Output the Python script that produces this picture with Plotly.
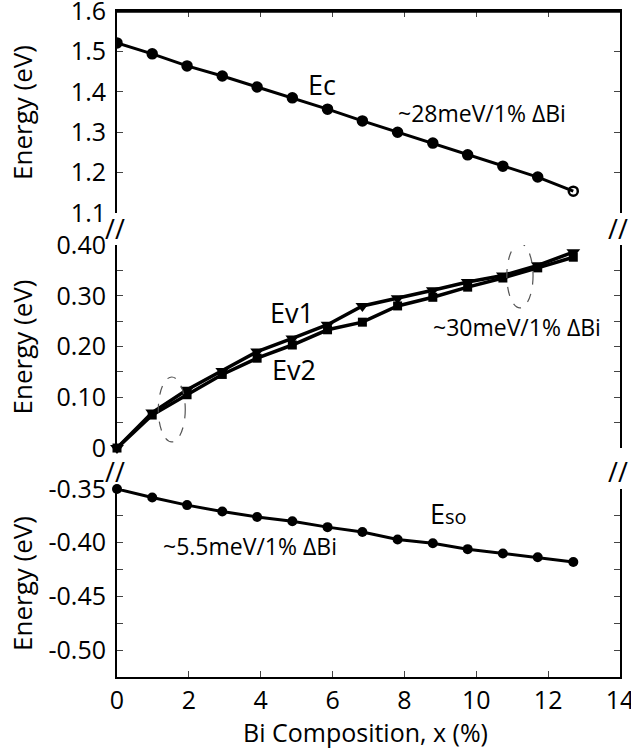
import plotly.graph_objects as go

# Bi composition (%) of the calculated points
bi_x = [0, 0.98, 1.95, 2.93, 3.9, 4.88, 5.86, 6.83, 7.81, 8.79, 9.76, 10.74, 11.71, 12.7]

# Band-edge energies (eV)
ec = [1.521, 1.494, 1.464, 1.439, 1.412, 1.385, 1.357, 1.328, 1.300, 1.273, 1.244, 1.216, 1.189, 1.154]
ev1 = [0.0, 0.070, 0.115, 0.152, 0.190, 0.216, 0.243, 0.280, 0.295, 0.311, 0.327, 0.340, 0.360, 0.386]
ev2 = [0.0, 0.065, 0.105, 0.145, 0.177, 0.203, 0.233, 0.248, 0.280, 0.297, 0.317, 0.335, 0.355, 0.376]
eso = [-0.350, -0.358, -0.365, -0.371, -0.376, -0.380, -0.3855, -0.390, -0.397, -0.4005, -0.406, -0.410, -0.4135, -0.418]

# Tick values / labels
x_ticks = [0, 2, 4, 6, 8, 10, 12, 14]
x_labels = ["0", "2", "4", "6", "8", "10", "12", "14"]
top_ticks = [1.1, 1.2, 1.3, 1.4, 1.5, 1.6]
top_labels = ["1.1", "1.2", "1.3", "1.4", "1.5", "1.6"]
mid_ticks = [0, 0.05, 0.10, 0.15, 0.20, 0.25, 0.30, 0.35, 0.40]
mid_labels = ["0", "", "0.10", "", "0.20", "", "0.30", "", "0.40"]
bot_ticks = [-0.525, -0.50, -0.475, -0.45, -0.425, -0.40, -0.375, -0.35]
bot_labels = ["", "-0.50", "", "-0.45", "", "-0.40", "", "-0.35"]

FONT = "Open Sans"
BLACK = "#000000"

fig = go.Figure()

ec_symbols = ["circle"] * (len(bi_x) - 1) + ["circle-open"]
fig.add_trace(go.Scatter(x=bi_x, y=ec, mode="lines+markers", xaxis="x", yaxis="y",
                         line=dict(color=BLACK, width=3),
                         marker=dict(symbol=ec_symbols, size=9, color=BLACK,
                                     line=dict(color=BLACK, width=2.5)),
                         showlegend=False))
fig.add_trace(go.Scatter(x=bi_x, y=ev1, mode="lines+markers", xaxis="x2", yaxis="y2",
                         line=dict(color=BLACK, width=3.5),
                         marker=dict(symbol="triangle-down", size=12, color=BLACK),
                         cliponaxis=False, showlegend=False))
fig.add_trace(go.Scatter(x=bi_x, y=ev2, mode="lines+markers", xaxis="x2", yaxis="y2",
                         line=dict(color=BLACK, width=3.5),
                         marker=dict(symbol="square", size=9, color=BLACK),
                         cliponaxis=False, showlegend=False))
fig.add_trace(go.Scatter(x=bi_x, y=eso, mode="lines+markers", xaxis="x3", yaxis="y3",
                         line=dict(color=BLACK, width=3),
                         marker=dict(symbol="circle", size=10, color=BLACK),
                         cliponaxis=False, showlegend=False))

tick_font = dict(family=FONT, size=25, color=BLACK)

common_y = dict(showline=True, linecolor=BLACK, linewidth=2, mirror="ticks",
                ticks="inside", ticklen=6, tickcolor="#444", tickwidth=1,
                showgrid=False, zeroline=False, tickfont=tick_font,
                ticklabelstandoff=4, ticklabeloverflow="allow", automargin=False)

# domains (bottom -> top)
d_bot = [0.0, 0.2823]
d_mid = [0.3438, 0.6486]
d_top = [0.6967, 1.0]

fig.update_layout(
    width=631, height=754,
    margin=dict(l=117, r=11, t=11, b=77, autoexpand=False),
    paper_bgcolor="white", plot_bgcolor="rgba(0,0,0,0)",
    font=dict(family=FONT, color=BLACK),
    xaxis=dict(domain=[0, 1], anchor="y", range=[0, 14], side="top",
               showline=True, linecolor=BLACK, linewidth=2,
               ticks="inside", ticklen=6, tickcolor="#444", tickvals=x_ticks,
               showticklabels=False, showgrid=False, zeroline=False, automargin=False),
    yaxis=dict(domain=d_top, anchor="x", range=[1.1, 1.6],
               tickvals=top_ticks, ticktext=top_labels, **common_y),
    xaxis2=dict(domain=[0, 1], anchor="y2", range=[0, 14], visible=False, automargin=False),
    yaxis2=dict(domain=d_mid, anchor="x2", range=[0, 0.40],
                tickvals=mid_ticks, ticktext=mid_labels, **common_y),
    xaxis3=dict(domain=[0, 1], anchor="y3", range=[0, 14],
                showline=True, linecolor=BLACK, linewidth=2,
                ticks="inside", ticklen=6, tickcolor="#444",
                tickvals=x_ticks, ticktext=x_labels,
                showgrid=False, zeroline=False, tickfont=tick_font,
                ticklabeloverflow="allow", ticklabelstandoff=0, automargin=False),
    yaxis3=dict(domain=d_bot, anchor="x3", range=[-0.525, -0.35],
                tickvals=bot_ticks, ticktext=bot_labels, **common_y),
)

# frame line along the top of the upper panel
fig.add_shape(type="line", xref="x", yref="y", x0=0, x1=14, y0=1.598, y1=1.598,
              line=dict(color=BLACK, width=2), layer="above")

# dashed ellipses marking the slope regions of the valence bands
ell = dict(type="circle", xref="x2", yref="y2",
           line=dict(color="#555", width=1.2, dash="dash"), layer="above")
fig.add_shape(x0=1.15, x1=1.9, y0=0.012, y1=0.14, **ell)
fig.add_shape(x0=10.85, x1=11.58, y0=0.276, y1=0.403, **ell)

lbl = dict(showarrow=False, font=dict(family=FONT, size=27, color=BLACK))
note = dict(showarrow=False, font=dict(family=FONT, size=23, color=BLACK))

fig.add_annotation(x=5.7, y=1.419, xref="x", yref="y", text="Ec", **lbl)
fig.add_annotation(x=10.16, y=1.348, xref="x", yref="y", text="~28meV/1% ΔBi", **note)
fig.add_annotation(x=4.87, y=0.268, xref="x2", yref="y2", text="Ev1", **lbl)
fig.add_annotation(x=4.93, y=0.154, xref="x2", yref="y2", text="Ev2", **lbl)
fig.add_annotation(x=11.13, y=0.238, xref="x2", yref="y2", text="~30meV/1% ΔBi", **note)
fig.add_annotation(x=3.40, y=-0.018, xref="x2", yref="y2", text="~53meV/1% ΔBi", **note)
fig.add_annotation(x=9.24, y=-0.3724, xref="x3", yref="y3",
                   text="E<span style='font-size:20px'>so</span>", **lbl)
fig.add_annotation(x=3.70, y=-0.4033, xref="x3", yref="y3", text="~5.5meV/1% ΔBi", **note)

# axis titles
for yc in [(sum(d_top) / 2), (sum(d_mid) / 2), (sum(d_bot) / 2)]:
    fig.add_annotation(x=-0.189, y=yc, xref="paper", yref="paper", text="Energy (eV)",
                       textangle=-90, xanchor="center", yanchor="middle",
                       showarrow=False, font=dict(family=FONT, size=26, color=BLACK))
fig.add_annotation(x=0.495, y=-0.083, xref="paper", yref="paper",
                   text="Bi Composition, x (%)", xanchor="center", yanchor="middle",
                   showarrow=False, font=dict(family=FONT, size=25, color=BLACK))

# axis-break marks
brk = dict(xref="paper", yref="paper", text="//", showarrow=False,
           font=dict(family=FONT, size=27, color=BLACK),
           xanchor="center", yanchor="middle")
for xb in [-0.004, 0.996]:
    fig.add_annotation(x=xb, y=0.674, **brk)
    fig.add_annotation(x=xb, y=0.309, **brk)

fig.write_html("out.html")
